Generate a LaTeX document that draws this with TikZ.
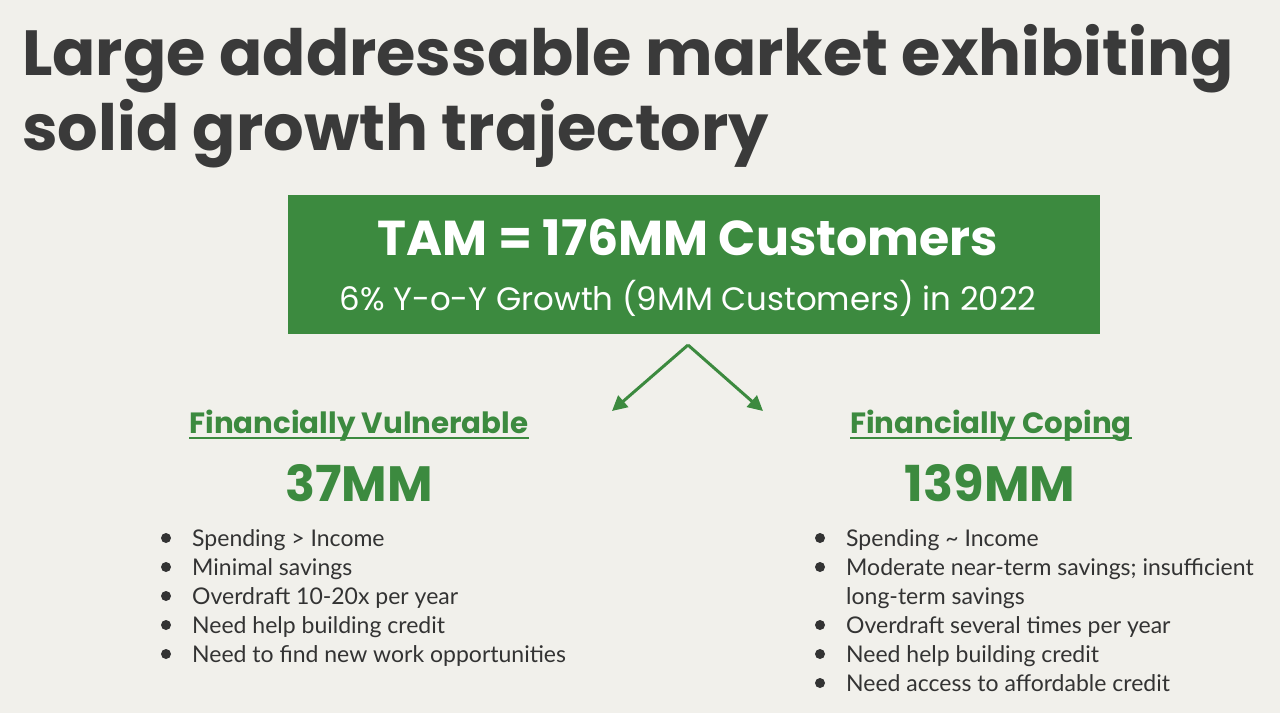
\documentclass[tikz,border=0pt]{standalone}
\usepackage{fontspec}
\usetikzlibrary{arrows.meta,calc}
\newfontfamily\popfont{Poppins}
\newfontfamily\bodyfont{Lato}
\definecolor{bg}{HTML}{F1F0EB}
\definecolor{grn}{HTML}{3C8A3F}
\definecolor{ink}{HTML}{3A3A3A}
\definecolor{txt}{HTML}{333333}
\tikzset{
  title/.style={inner sep=0pt,anchor=base west,text=ink,font=\popfont\bfseries\fontsize{63.8}{63.8}\selectfont},
  head/.style={inner sep=0pt,anchor=base,text=grn,font=\popfont\bfseries\fontsize{29.3}{29.3}\selectfont},
  big/.style={inner sep=0pt,anchor=base,text=grn,font=\popfont\bfseries\fontsize{49.6}{49.6}\selectfont},
  item/.style={inner sep=0pt,anchor=base west,text=txt,font=\bodyfont\fontsize{23}{23}\selectfont},
  dot/.style={fill=txt,draw=none},
  conn/.style={draw=grn,line width=3pt,-{Triangle[length=15pt,width=15pt]}}
}
\begin{document}
\begin{tikzpicture}[x=1pt,y=-1pt]
\fill[bg] (0,0) rectangle (1280,713);
\useasboundingbox (0,0) rectangle (1280,713);
% title
\node[title] (t1) at (22,75) {Large addressable market exhibiting};
\node[title] (t2) at (22,150) {solid growth trajectory};
% green box
\node[fill=grn,minimum width=812pt,minimum height=139pt,inner sep=0pt] (box) at (694,264.5) {};
\node[inner sep=0pt,anchor=base,text=white,font=\popfont\bfseries\fontsize{49}{49}\selectfont] (tam) at (688,255) {TAM = 176MM Customers};
\node[inner sep=0pt,anchor=base,text=white,font=\popfont\fontsize{32.4}{32.4}\selectfont] (sub) at (688,310) {6\% Y-o-Y Growth (9MM Customers) in 2022};
% arrows
\coordinate (apex) at (688,345);
\coordinate (la) at (612,411);
\coordinate (ra) at (763,411);
\draw[conn] (apex) -- (la);
\draw[conn] (apex) -- (ra);
% left column
\node[head] (fv) at (359,433) {Financially Vulnerable};
\draw[grn,line width=2.5pt] ($(fv.base west)+(0,5)$) -- ($(fv.base east)+(0,5)$);
\node[big] (n37) at (359,501) {37MM};
\foreach \t [count=\i] in {Spending > Income,Minimal savings,Overdraft 10-20x per year,Need help building credit,Need to find new work opportunities}{
  \fill[dot] (166,{546+29*(\i-1)-8}) circle (5pt);
  \node[item] (l\i) at (192,{546+29*(\i-1)}) {\t};
}
% right column
\node[head] (fc) at (991,433) {Financially Coping};
\draw[grn,line width=2.5pt] ($(fc.base west)+(0,5)$) -- ($(fc.base east)+(0,5)$);
\node[big] (n139) at (990,501) {139MM};
\foreach \y/\t [count=\i] in {546/Spending \textasciitilde{} Income,575/Moderate near-term savings; insufficient,633/Overdraft several times per year,662/Need help building credit,691/Need access to affordable credit}{
  \fill[dot] (820,\y-8) circle (5pt);
  \node[item] (r\i) at (846,\y) {\t};
}
\node[item] (r2b) at (846,604) {long-term savings};
\end{tikzpicture}
\end{document}
